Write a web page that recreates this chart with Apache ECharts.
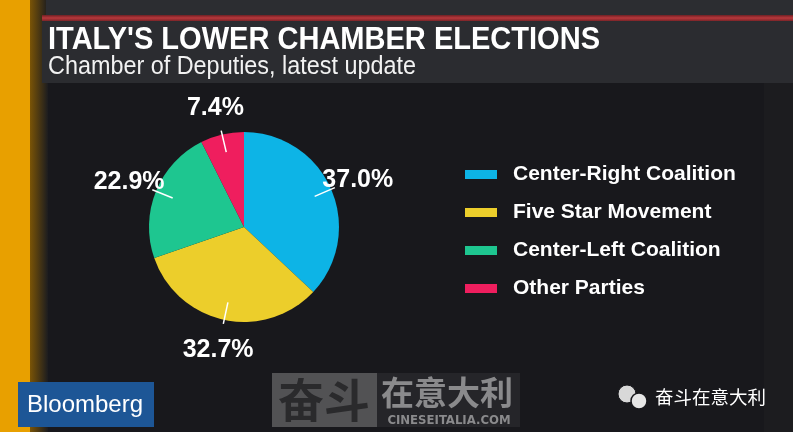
<!DOCTYPE html>
<html>
<head>
<meta charset="utf-8">
<script src="https://cdn.jsdelivr.net/npm/echarts@6/dist/echarts.min.js"></script>
<style>html,body{margin:0;padding:0;background:#18181c;}#c{width:793px;height:432px;}</style>
</head>
<body>
<div id="c"></div>
<script>
// ---- data ----
const categories = ['Center-Right Coalition', 'Five Star Movement', 'Center-Left Coalition', 'Other Parties'];
const shares = [37.0, 32.7, 22.9, 7.4];
const colors = ['#0db4e6', '#ecce2b', '#1ec690', '#ef1e5e'];
const titleText = "ITALY'S LOWER CHAMBER ELECTIONS";
const subtitleText = 'Chamber of Deputies, latest update';

const chart = echarts.init(document.getElementById('c'), null, { renderer: 'canvas' });

const SANS = '"Liberation Sans", Arial, sans-serif';
const TITLE_FONT = 'bold 31px ' + SANS;
const SUB_FONT = '25px ' + SANS;
const TITLE_W = 552, SUB_W = 368;
const mctx = document.createElement('canvas').getContext('2d');
function fitScale(font, text, target) { mctx.font = font; return target / mctx.measureText(text).width; }

const LINE_IN = 18, LINE_OUT = 4, LABEL_OUT = 29;

const pieData = categories.map(function (c, i) { return { name: c, value: shares[i] }; });

const option = {
  backgroundColor: '#18181c',
  animation: false,
  legend: {
    orient: 'vertical', left: 460, top: 159,
    icon: 'rect', itemWidth: 32, itemHeight: 9, itemGap: 17,
    selectedMode: false,
    textStyle: { color: '#ffffff', fontFamily: SANS, fontWeight: 'bold', fontSize: 21, lineHeight: 21, padding: [0, 0, 0, 11] },
    data: categories
  },
  graphic: [
    { type: 'rect', z: -10, shape: { x: 0, y: 0, width: 30, height: 432 }, style: { fill: '#e8a000' } },
    { type: 'rect', z: -10, shape: { x: 30, y: 0, width: 18, height: 432 }, style: { fill: new echarts.graphic.LinearGradient(0, 0, 1, 0, [{ offset: 0, color: '#7a5406' }, { offset: 1, color: '#1c1c1f' }]) } },
    { type: 'rect', z: -10, shape: { x: 46, y: 0, width: 747, height: 15 }, style: { fill: '#2c2d31' } },
    { type: 'rect', z: -9, shape: { x: 42, y: 15, width: 751, height: 6 }, style: { fill: new echarts.graphic.LinearGradient(0, 0, 0, 1, [{ offset: 0, color: '#6e2024' }, { offset: 0.5, color: '#b8383c' }, { offset: 1, color: '#7a2428' }]) } },
    { type: 'rect', z: -10, shape: { x: 42, y: 21, width: 751, height: 62 }, style: { fill: '#2b2c30' } },
    { type: 'rect', z: -10, shape: { x: 764, y: 83, width: 29, height: 349 }, style: { fill: '#1c1c1f' } },
    // title + subtitle
    { type: 'text', z: 6, x: 48, y: 40, scaleX: fitScale(TITLE_FONT, titleText, TITLE_W), style: { x: 0, y: 0, text: titleText, fill: '#ffffff', font: TITLE_FONT, align: 'left', verticalAlign: 'middle' } },
    { type: 'text', z: 6, x: 48, y: 67, scaleX: fitScale(SUB_FONT, subtitleText, SUB_W), style: { x: 0, y: 0, text: subtitleText, fill: '#f2f2f2', font: SUB_FONT, align: 'left', verticalAlign: 'middle' } },
    // Bloomberg logo
    { type: 'rect', z: 5, shape: { x: 18, y: 382, width: 136, height: 45 }, style: { fill: '#1d5696' } },
    { type: 'text', z: 6, style: { x: 85, y: 405, text: 'Bloomberg', fill: '#ffffff', font: '24px ' + SANS, align: 'center', verticalAlign: 'middle' } },
    // watermark
    { type: 'rect', z: 5, shape: { x: 272, y: 373, width: 105, height: 54 }, style: { fill: 'rgba(140,140,140,0.5)' } },
    { type: 'rect', z: 5, shape: { x: 377, y: 373, width: 143, height: 54 }, style: { fill: 'rgba(255,255,255,0.06)' } },
    { type: 'text', z: 6, style: { x: 324, y: 400, text: '奋斗', fill: '#2a2a2c', font: 'bold 46px "Noto Sans CJK SC", sans-serif', align: 'center', verticalAlign: 'middle' } },
    { type: 'text', z: 6, style: { x: 447, y: 392, text: '在意大利', fill: '#8a8a8c', font: 'bold 33px "Noto Sans CJK SC", sans-serif', align: 'center', verticalAlign: 'middle' } },
    { type: 'text', z: 6, style: { x: 449, y: 421, text: 'CINESEITALIA.COM', fill: '#8a8a8c', font: 'bold 13px "DejaVu Sans Condensed", sans-serif', align: 'center', verticalAlign: 'middle' } },
    // wechat icon
    { type: 'circle', z: 6, shape: { cx: 627, cy: 394, r: 9 }, style: { fill: '#d8d8d8', stroke: '#18181c', lineWidth: 1 } },
    { type: 'circle', z: 7, shape: { cx: 639, cy: 401, r: 8 }, style: { fill: '#e6e6e6', stroke: '#18181c', lineWidth: 1.5 } },
    { type: 'text', z: 6, style: { x: 655, y: 397, text: '奋斗在意大利', fill: '#ffffff', font: '18.5px "Noto Sans CJK SC", sans-serif', align: 'left', verticalAlign: 'middle' } }
  ],
  series: [{
    type: 'pie',
    z: 2,
    center: [244, 227],
    radius: [0, 95],
    startAngle: 90,
    clockwise: true,
    color: colors,
    itemStyle: { borderWidth: 0 },
    emphasis: { disabled: true },
    label: { show: false },
    labelLine: { show: false },
    data: pieData
  }, {
    type: 'pie',
    z: 4,
    center: [244, 227],
    radius: [0, 95],
    startAngle: 90,
    clockwise: true,
    silent: true,
    itemStyle: { color: 'rgba(0,0,0,0)', borderWidth: 0 },
    emphasis: { disabled: true },
    label: {
      show: true, position: 'outside',
      formatter: function (p) { return p.value.toFixed(1) + '%'; },
      color: '#ffffff', fontFamily: SANS, fontWeight: 'bold', fontSize: 25
    },
    labelLine: { show: true, length: 10, length2: 0, lineStyle: { color: '#ffffff', width: 1.5 } },
    labelLayout: function (p) {
      const pts = p.labelLinePoints;
      if (!pts || pts.length < 2) return {};
      const a = pts[0], b = pts[1];
      const dx = b[0] - a[0], dy = b[1] - a[1];
      const len = Math.hypot(dx, dy) || 1;
      const ux = dx / len, uy = dy / len;
      return {
        x: a[0] + ux * LABEL_OUT, y: a[1] + uy * LABEL_OUT + 2,
        align: 'center', verticalAlign: 'middle',
        labelLinePoints: [[a[0] - ux * LINE_IN, a[1] - uy * LINE_IN], [a[0] + ux * LINE_OUT, a[1] + uy * LINE_OUT]]
      };
    },
    data: pieData
  }]
};
chart.setOption(option);
</script>
</body>
</html>
